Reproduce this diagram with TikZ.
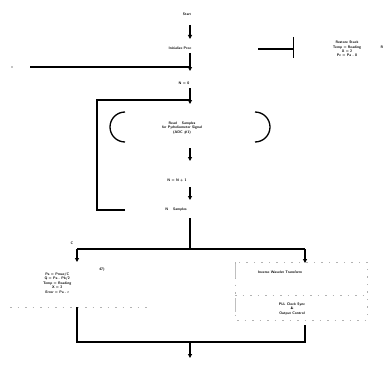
\documentclass[tikz,border=0pt]{standalone}
\usetikzlibrary{arrows.meta}
\begin{document}
\begin{tikzpicture}[x=1pt,y=-1pt,
  lbl/.style={font=\fontsize{3.6}{4.4}\selectfont\sffamily\bfseries,inner sep=0.5pt,align=center},
  wire/.style={line width=1.3pt,black},
  arr/.style={wire,-{Triangle[length=4pt,width=4pt]}},
  faint/.style={gray!60,line width=0.5pt,dash pattern=on 1.5pt off 6pt}]
\useasboundingbox (0,0) rectangle (385,369);
% nodes
\node[lbl] (start) at (187,14) {Start};
\node[lbl] (init) at (180,48) {Initialize Proc};
\node[lbl] (n0) at (184,83) {N = 0};
\node[lbl] (read) at (182,128) {Read \quad Samples\\for Pyrheliometer Signal\\(ADC \#1)};
\node[lbl] (inc) at (177,180) {N = N + 1};
\node[lbl] (ntest) at (176,210) {N \quad Samples};
\node[lbl,anchor=east] (calc) at (72,283) {Pa = Pmax/C\\Q = Pa - Pb/2\\Temp = Reading\\X = 2\\Error = Pa - r};
\node[lbl] (eq) at (102,270) {47)};
\node[lbl] (cl) at (72,243) {C};
\node[lbl] (iwt) at (280,272) {Inverse Wavelet Transform};
\node[lbl] (pll) at (292,309) {PLL Clock Sync\\\&\\Output Control};
\node[lbl] (rest) at (347,49) {Restore Stack\\Temp = Reading\\X = 2\\Pc = Pa - 0};
\node[lbl] (rr) at (382,47) {R};
% coordinates
\coordinate (a1) at (190,25);
\coordinate (a2) at (190,39);
\coordinate (a3) at (190,53);
\coordinate (a4) at (190,71);
\coordinate (h1) at (30,67);
\coordinate (h1e) at (190,67);
\coordinate (b1) at (190,88);
\coordinate (b2) at (190,104);
\coordinate (l1) at (97,100);
\coordinate (l1e) at (190,100);
\coordinate (l2) at (97,210);
\coordinate (l2e) at (125,210);
\coordinate (c1) at (190,148);
\coordinate (c2) at (190,161);
\coordinate (d1) at (190,187);
\coordinate (d2) at (190,200);
\coordinate (e1) at (190,218);
\coordinate (e2) at (190,249);
\coordinate (sl) at (77,249);
\coordinate (sr) at (305,249);
\coordinate (slb) at (77,262);
\coordinate (srb) at (305,263);
\coordinate (ml) at (77,307);
\coordinate (mlb) at (77,342);
\coordinate (mr) at (305,325);
\coordinate (mrb) at (305,342);
\coordinate (mm) at (190,342);
\coordinate (out) at (190,358);
\coordinate (tr1) at (293,37);
\coordinate (tr2) at (293,58);
\coordinate (th1) at (258,49);
% connectors
\draw[arr] (a1) -- (a2);
\draw[arr] (a3) -- (a4);
\draw[wire] (h1) -- (h1e);
\fill (12,67) circle (0.6pt);
\draw[arr] (b1) -- (b2);
\draw[wire] (l2e) -- (l2) -- (l1) -- (l1e);
\draw[wire] (125,112) arc[start angle=270,end angle=90,radius=15];
\draw[wire] (255,112) arc[start angle=-90,end angle=90,radius=15];
\draw[arr] (c1) -- (c2);
\draw[arr] (d1) -- (d2);
\draw[wire] (e1) -- (e2);
\draw[wire] (sl) -- (sr);
\draw[arr] (sl) -- (slb);
\draw[arr] (sr) -- (srb);
\draw[wire] (ml) -- (mlb) -- (mrb) -- (mr);
\draw[arr] (mm) -- (out);
\draw[line width=0.6pt] (tr1) -- (tr2);
\draw[line width=1.6pt] (th1) -- (tr1 |- th1);
% faint box
\draw[faint] (235,262) rectangle (367,320);
\draw[faint] (235,295) -- (367,295);
\draw[gray!50,line width=0.6pt] (235,264) -- (235,278);
\draw[gray!50,line width=0.6pt] (235,298) -- (235,312);
\draw[faint] (10,307) -- (150,307);
\end{tikzpicture}
\end{document}
